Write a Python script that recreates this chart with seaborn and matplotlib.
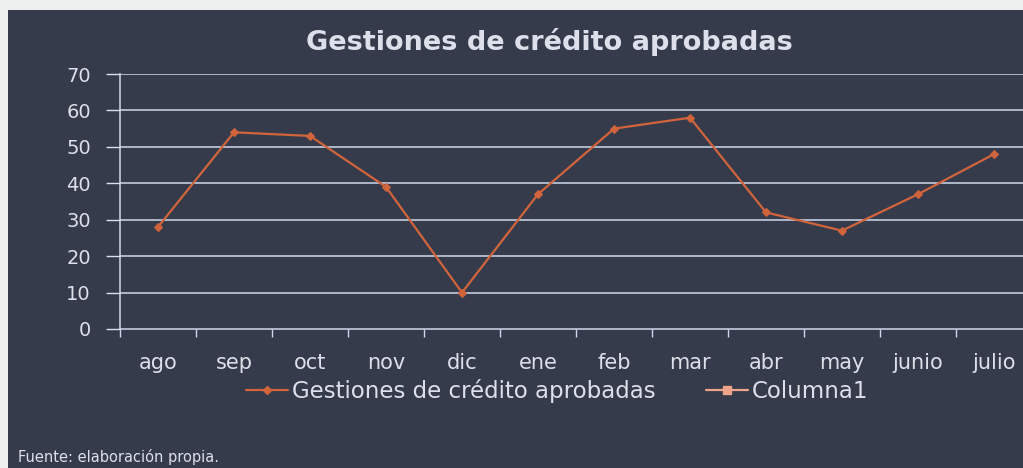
import numpy as np
import pandas as pd
import matplotlib
matplotlib.use("Agg")
import matplotlib.pyplot as plt
import seaborn as sns
from matplotlib.lines import Line2D
from matplotlib.patches import Rectangle

# 데이터
meses = ['ago', 'sep', 'oct', 'nov', 'dic', 'ene', 'feb', 'mar', 'abr', 'may', 'junio', 'julio']
gestiones = [28, 54, 53, 39, 10, 37, 55, 58, 32, 27, 37, 48]
y_ticks = [0, 10, 20, 30, 40, 50, 60, 70]

df = pd.DataFrame({'mes': meses, 'gestiones': gestiones})
df['pos'] = np.arange(len(meses))

bg = '#353b4b'
txt = '#dde0ea'
grid_c = '#cfd9ee'
linea = '#d2643c'

sns.set_style('dark')
plt.rcParams['font.family'] = ['DejaVu Sans']

fig = plt.figure(figsize=(10.23, 4.68), dpi=100, facecolor=bg)
# 바깥 흰 테두리 (위, 왼쪽)
fig.patches.append(Rectangle((0, 1 - 10 / 468), 1, 10 / 468, transform=fig.transFigure,
                             facecolor='#eef0f0', edgecolor='none', zorder=-10))
fig.patches.append(Rectangle((0, 0), 8 / 1023, 1, transform=fig.transFigure,
                             facecolor='#eef0f0', edgecolor='none', zorder=-10))

ax = fig.add_axes([120 / 1023, 1 - 329 / 468, 912 / 1023, 255 / 468])
ax.set_facecolor(bg)

sns.lineplot(data=df, x='pos', y='gestiones', ax=ax, color=linea, linewidth=1.6,
             marker='D', markersize=4.5, markeredgecolor=linea, legend=False, zorder=3)

ax.set_xlim(-0.5, len(meses) - 0.5)
ax.set_ylim(0, 70)
ax.set_yticks(y_ticks)
ax.set_xticks(np.arange(len(meses)))
ax.set_xticklabels(meses)
ax.set_xticks(np.arange(len(meses) + 1) - 0.5, minor=True)

for v in y_ticks[1:]:
    ax.axhline(v, color=grid_c, linewidth=1.1, zorder=1)

for s in ['top', 'right']:
    ax.spines[s].set_visible(False)
ax.spines['left'].set_color(grid_c)
ax.spines['bottom'].set_color(grid_c)
ax.spines['left'].set_linewidth(1.1)
ax.spines['bottom'].set_linewidth(1.1)

ax.tick_params(axis='y', colors=txt, labelsize=14, length=10, width=1, direction='out', pad=11, left=True)
ax.tick_params(axis='x', which='major', colors=txt, labelsize=15, length=0, pad=17, bottom=False)
ax.tick_params(axis='x', which='minor', color=grid_c, length=6, width=1, direction='out', bottom=True)
for lab in ax.get_yticklabels():
    lab.set_color(txt)
for lab in ax.get_xticklabels():
    lab.set_color(txt)
ax.set_xlabel('')
ax.set_ylabel('')
ax.grid(False)

fig.text(0.537, 1 - 42 / 468, 'Gestiones de crédito aprobadas', ha='center', va='center',
         fontsize=19.5, fontweight='bold', color=txt)

handles = [Line2D([], [], color=linea, marker='D', markersize=4.5, linewidth=1.6),
           Line2D([], [], color='#eea48a', marker='s', markersize=6, linewidth=1.6)]
leg = fig.legend(handles, ['Gestiones de crédito aprobadas', 'Columna1'], loc='center',
                 bbox_to_anchor=(0.545, 1 - 391 / 468), ncol=2, frameon=False,
                 fontsize=16.5, handlelength=1.8, handletextpad=0.2, columnspacing=2.2)
for t in leg.get_texts():
    t.set_color(txt)

fig.text(18 / 1023, 1 - 457 / 468, 'Fuente: elaboración propia.', ha='left', va='center',
         fontsize=10.5, color=txt)

fig.savefig('out.png', dpi=100, facecolor=fig.get_facecolor())
